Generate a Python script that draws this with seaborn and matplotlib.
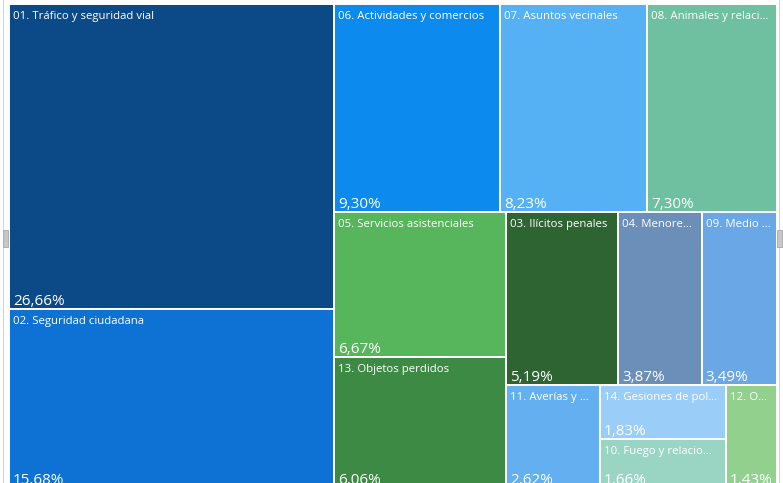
import matplotlib
matplotlib.use("Agg")
import matplotlib.pyplot as plt
from matplotlib.patches import Rectangle
import seaborn as sns

# ---- data ----
labels = [
    "01. Tráfico y seguridad vial",
    "02. Seguridad ciudadana",
    "06. Actividades y comercios",
    "07. Asuntos vecinales",
    "08. Animales y relaci…",
    "05. Servicios asistenciales",
    "13. Objetos perdidos",
    "03. Ilícitos penales",
    "04. Menore…",
    "09. Medio …",
    "11. Averías y …",
    "14. Gesiones de pol…",
    "10. Fuego y relacio…",
    "12. O…",
]
shares = [26.66, 15.68, 9.30, 8.23, 7.30, 6.67, 6.06, 5.19, 3.87, 3.49, 2.62, 1.83, 1.66, 1.43]
colors = [
    "#0b4a87", "#0e72d4", "#0d8aee", "#55b0f4", "#6fbfa1",
    "#57b55b", "#3d8a44", "#2d6431", "#6b8fb8", "#69a7e6",
    "#63aff0", "#9acdf7", "#9ad4c2", "#92d08e",
]


def squarify(values, x0, y0, x1, y1, ratio=(1 + 5 ** 0.5) / 2):
    """Port of d3.treemapSquarify (golden ratio)."""
    n = len(values)
    rects = [None] * n
    value = float(sum(values))
    i0 = i1 = 0
    while i0 < n:
        dx, dy = x1 - x0, y1 - y0
        sum_v = values[i1]
        i1 += 1
        min_v = max_v = sum_v
        alpha = max(dy / dx, dx / dy) / (value * ratio)
        beta = sum_v * sum_v * alpha
        min_ratio = max(max_v / beta, beta / min_v)
        while i1 < n:
            v = values[i1]
            s = sum_v + v
            mn, mx = min(min_v, v), max(max_v, v)
            beta = s * s * alpha
            new_ratio = max(mx / beta, beta / mn)
            if new_ratio > min_ratio:
                break
            sum_v, min_v, max_v, min_ratio = s, mn, mx, new_ratio
            i1 += 1
        if dx < dy:  # row across the top
            yb = y0 + dy * sum_v / value
            x = x0
            for i in range(i0, i1):
                w = dx * values[i] / sum_v
                rects[i] = (x, y0, w, yb - y0)
                x += w
            y0 = yb
        else:  # column on the left
            xb = x0 + dx * sum_v / value
            y = y0
            for i in range(i0, i1):
                h = dy * values[i] / sum_v
                rects[i] = (x0, y, xb - x0, h)
                y += h
            x0 = xb
        value -= sum_v
        i0 = i1
    return rects


sns.set_theme(style="white")
plt.rcParams["font.family"] = ["Open Sans", "DejaVu Sans"]

FW, FH = 783, 483
fig = plt.figure(figsize=(FW / 100, FH / 100), dpi=100)
fig.patch.set_facecolor("white")

# treemap area in pixels (extends slightly below the visible frame)
left_px, top_px, W, H = 9, 4, 768, 484
ax = fig.add_axes([left_px / FW, (FH - top_px - H) / FH, W / FW, H / FH])
ax.set_xlim(0, W)
ax.set_ylim(H, 0)
ax.axis("off")

rects = squarify(shares, 0, 0, W, H)
for lab, val, col, (x, y, w, h) in zip(labels, shares, colors, rects):
    ax.add_patch(Rectangle((x, y), w, h, facecolor=col, edgecolor="white", linewidth=1.4))
    ax.annotate(lab, xy=(x, y), xytext=(4, -7), textcoords="offset pixels",
                ha="left", va="top", color="white", fontsize=8.2)
    ax.annotate(f"{val:.2f}%".replace(".", ","), xy=(x, y + h), xytext=(4, 4),
                textcoords="offset pixels", ha="left", va="baseline",
                color="white", fontsize=11)

# frame decorations (visual container edges and resize handles)
def px_rect(x, y, w, h, **kw):
    fig.add_artist(Rectangle((x / FW, 1 - (y + h) / FH), w / FW, h / FH,
                             transform=fig.transFigure, **kw))

px_rect(3, 0, 1, FH, facecolor="#d4d4d4", edgecolor="none")
px_rect(779, 0, 1, FH, facecolor="#d4d4d4", edgecolor="none")
px_rect(3, 230, 5, 17, facecolor="#c6c6c6", edgecolor="#a8a8a8", linewidth=0.6)
px_rect(776.5, 230, 5, 17, facecolor="#c6c6c6", edgecolor="#a8a8a8", linewidth=0.6)

fig.savefig("out.png", dpi=100)
